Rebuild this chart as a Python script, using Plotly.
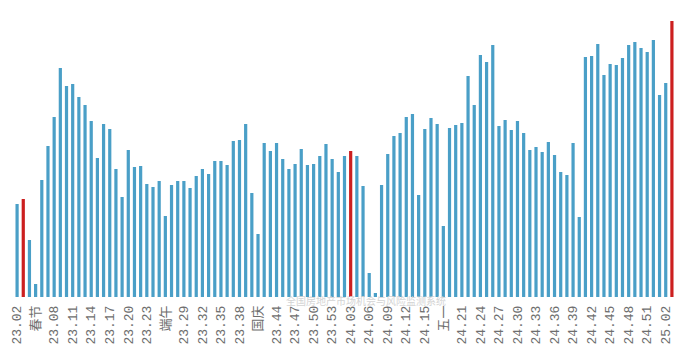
import plotly.graph_objects as go

# Week categories: 2023 wk02-53, 2024 wk01-52, 2025 wk01-03
weeks = ([f"23.{w:02d}" for w in range(2, 54)] +
         [f"24.{w:02d}" for w in range(1, 53)] +
         [f"25.{w:02d}" for w in range(1, 4)])

values = [93, 98, 57, 13, 117, 151, 180, 229, 211, 213, 200, 192, 176, 139, 173, 168,
          128, 100, 147, 130, 131, 113, 110, 116, 81, 112, 116, 116, 109, 121, 128, 123,
          136, 136, 132, 156, 157, 173, 104, 63, 154, 146, 154, 138, 128, 133, 148, 132,
          133, 141, 153, 138, 125, 141, 146, 141, 111, 24, 4, 112, 143, 161, 164, 180,
          183, 102, 168, 179, 173, 71, 169, 172, 174, 221, 192, 242, 235, 252, 171, 177,
          167, 176, 164, 147, 150, 145, 155, 142, 125, 122, 154, 80, 240, 241, 253, 222,
          233, 232, 239, 252, 255, 249, 245, 257, 202, 214, 276]

highlight_week = "03"
holiday_labels = {"23.05": "春节", "23.26": "端午", "23.41": "国庆", "24.18": "五一"}
watermark = "全国房地产市场机会与风险监测系统"

bar_blue = "#4a9fc7"
bar_red = "#cc1f1f"
colors = [bar_red if w.endswith(highlight_week) else bar_blue for w in weeks]

tickvals = weeks[::3]
ticktext = [holiday_labels.get(w, w) for w in tickvals]

fig = go.Figure(go.Bar(x=weeks, y=values, marker_color=colors, marker_line_width=0))

fig.update_layout(
    width=695, height=352,
    margin=dict(l=14, r=20, t=0, b=55),
    paper_bgcolor="white", plot_bgcolor="white",
    bargap=0.48, showlegend=False,
    xaxis=dict(type="category", tickvals=tickvals, ticktext=ticktext,
               tickangle=-90, showgrid=False, zeroline=False, showline=False,
               ticks="", ticklabelstandoff=5, range=[-0.5, len(weeks) - 0.5],
               tickfont=dict(family="Liberation Mono, Noto Sans CJK SC", size=13, color="#6e6e6e")),
    yaxis=dict(visible=False, range=[0, 297]),
    annotations=[dict(text=watermark, xref="paper", yref="paper", x=0.532, y=-0.012,
                      xanchor="center", yanchor="middle", showarrow=False,
                      font=dict(family="Noto Sans CJK SC", size=10, color="#d4d4d4"))],
)

fig.write_html("out.html")
